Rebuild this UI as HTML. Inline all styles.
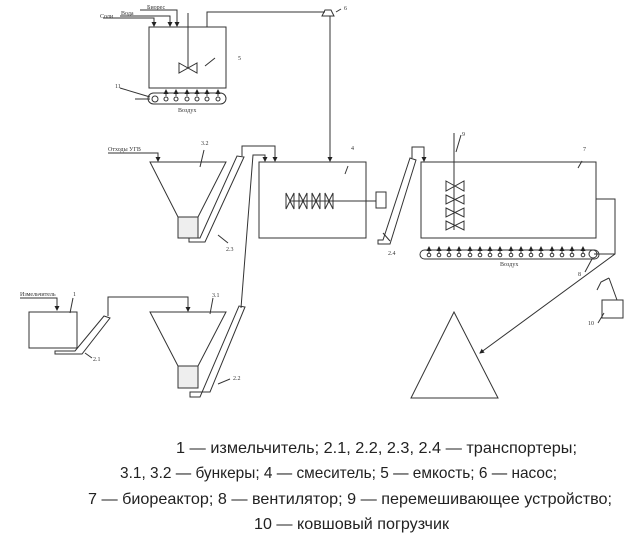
<!DOCTYPE html>
<html><head><meta charset="utf-8"><style>
html,body{margin:0;padding:0;background:#fff;width:644px;height:550px;overflow:hidden}
svg{display:block}
.s{fill:none;stroke:#333;stroke-width:1}
.t{font-family:"Liberation Serif",serif;font-size:6px;fill:#333}
.c{font-family:"Liberation Sans",sans-serif;font-size:16px;fill:#222}
</style></head><body>
<svg width="644" height="550" viewBox="0 0 644 550" xmlns="http://www.w3.org/2000/svg">
<defs><marker id="a" markerWidth="5" markerHeight="5" refX="4" refY="2.5" orient="auto"><path d="M0,0L5,2.5L0,5z" fill="#222"/></marker></defs>
<g class="s">
<rect x="149" y="27" width="77" height="61"/>
<line x1="188" y1="13" x2="188" y2="68"/>
<path d="M179,63L197,73L197,63L179,73z"/>
<line x1="215" y1="58" x2="205" y2="66"/>
<path d="M103,18H154V26" marker-end="url(#a)"/>
<path d="M120,16H170V26" marker-end="url(#a)"/>
<path d="M140,10H177V26" marker-end="url(#a)"/>
<path d="M207,27V12H325"/>
<path d="M325,10L331,10L334,16L322,16z"/>
<line x1="336" y1="12" x2="341" y2="9"/>
<path d="M330,16V161" marker-end="url(#a)"/>
<rect x="148" y="93" width="78" height="11" rx="5.5"/>
<line x1="135" y1="99" x2="150" y2="99"/>
<line x1="120" y1="88" x2="150" y2="97"/>
<circle cx="155" cy="99" r="3"/><circle cx="166" cy="99" r="2"/><circle cx="176" cy="99" r="2"/><circle cx="187" cy="99" r="2"/><circle cx="197" cy="99" r="2"/><circle cx="207" cy="99" r="2"/><circle cx="218" cy="99" r="2"/>
<line x1="166" y1="96" x2="166" y2="90" marker-end="url(#a)"/><line x1="176" y1="96" x2="176" y2="90" marker-end="url(#a)"/><line x1="187" y1="96" x2="187" y2="90" marker-end="url(#a)"/><line x1="197" y1="96" x2="197" y2="90" marker-end="url(#a)"/><line x1="207" y1="96" x2="207" y2="90" marker-end="url(#a)"/><line x1="218" y1="96" x2="218" y2="90" marker-end="url(#a)"/>
<path d="M150,162H226L198,217H178z"/>
<rect x="178" y="217" width="20" height="21" fill="#eee"/>
<path d="M108,153H158V161" marker-end="url(#a)"/>
<line x1="204" y1="150" x2="200" y2="167"/>
<path d="M189,242H205L244,157L237,156L200,238H189z"/>
<line x1="218" y1="235" x2="228" y2="243"/>
<path d="M242,156V146H275V161" marker-end="url(#a)"/>
<path d="M241,308L253,155H265V161" marker-end="url(#a)"/>
<rect x="259" y="162" width="107" height="76"/>
<path d="M286,193L294,209L294,193L286,209z M299,193L307,209L307,193L299,209z M312,193L320,209L320,193L312,209z M325,193L333,209L333,193L325,209z"/>
<line x1="290" y1="201" x2="376" y2="201"/>
<rect x="376" y="192" width="10" height="16"/>
<line x1="348" y1="166" x2="345" y2="174"/>
<rect x="29" y="312" width="48" height="36"/>
<path d="M20,298H57V310" marker-end="url(#a)"/>
<line x1="73" y1="298" x2="70" y2="313"/>
<path d="M55,354H82L110,318L104,316L75,351H55z"/>
<line x1="85" y1="353" x2="92" y2="358"/>
<path d="M108,316V297H188V311" marker-end="url(#a)"/>
<path d="M150,312H226L198,366H178z"/>
<rect x="178" y="366" width="20" height="22" fill="#eee"/>
<line x1="213" y1="298" x2="210" y2="314"/>
<path d="M190,392H210L245,307L239,306L200,397H190z"/>
<line x1="218" y1="384" x2="230" y2="379"/>
<path d="M378,244H390L416,160L410,158L383,240H378z"/>
<line x1="383" y1="233" x2="390" y2="241"/>
<path d="M412,158V147H424V161" marker-end="url(#a)"/>
<rect x="421" y="162" width="175" height="76"/>
<line x1="454" y1="133" x2="454" y2="230"/>
<line x1="456" y1="152" x2="461" y2="135"/>
<path d="M446,181L464,191L464,181L446,191z M446,195L464,204L464,195L446,204z M446,208L464,217L464,208L446,217z M446,221L464,230L464,221L446,230z"/>
<line x1="578" y1="168" x2="582" y2="161"/>
<path d="M596,199H615V254L480,353" marker-end="url(#a)"/>
<rect x="420" y="250" width="179" height="9" rx="4.5"/>
<line x1="594" y1="254" x2="615" y2="254"/>
<circle cx="593" cy="254" r="4"/>
<line x1="585" y1="272" x2="592" y2="259"/>
<line x1="429" y1="253" x2="429" y2="247" marker-end="url(#a)"/><line x1="439" y1="253" x2="439" y2="247" marker-end="url(#a)"/><line x1="449" y1="253" x2="449" y2="247" marker-end="url(#a)"/><line x1="459" y1="253" x2="459" y2="247" marker-end="url(#a)"/><line x1="470" y1="253" x2="470" y2="247" marker-end="url(#a)"/><line x1="480" y1="253" x2="480" y2="247" marker-end="url(#a)"/><line x1="490" y1="253" x2="490" y2="247" marker-end="url(#a)"/><line x1="500" y1="253" x2="500" y2="247" marker-end="url(#a)"/><line x1="511" y1="253" x2="511" y2="247" marker-end="url(#a)"/><line x1="521" y1="253" x2="521" y2="247" marker-end="url(#a)"/><line x1="531" y1="253" x2="531" y2="247" marker-end="url(#a)"/><line x1="541" y1="253" x2="541" y2="247" marker-end="url(#a)"/><line x1="552" y1="253" x2="552" y2="247" marker-end="url(#a)"/><line x1="562" y1="253" x2="562" y2="247" marker-end="url(#a)"/><line x1="572" y1="253" x2="572" y2="247" marker-end="url(#a)"/><line x1="583" y1="253" x2="583" y2="247" marker-end="url(#a)"/>
<circle cx="429" cy="255" r="1.8"/><circle cx="439" cy="255" r="1.8"/><circle cx="449" cy="255" r="1.8"/><circle cx="459" cy="255" r="1.8"/><circle cx="470" cy="255" r="1.8"/><circle cx="480" cy="255" r="1.8"/><circle cx="490" cy="255" r="1.8"/><circle cx="500" cy="255" r="1.8"/><circle cx="511" cy="255" r="1.8"/><circle cx="521" cy="255" r="1.8"/><circle cx="531" cy="255" r="1.8"/><circle cx="541" cy="255" r="1.8"/><circle cx="552" cy="255" r="1.8"/><circle cx="562" cy="255" r="1.8"/><circle cx="572" cy="255" r="1.8"/><circle cx="583" cy="255" r="1.8"/>
<path d="M454,312L498,398H411z"/>
<rect x="602" y="300" width="21" height="18"/>
<path d="M609,278L617,300M609,278L601,282L597,290"/>
<line x1="598" y1="323" x2="604" y2="313"/>
</g>
<g class="t">
<text x="100" y="18">Соли</text><text x="121" y="15">Вода</text><text x="147" y="9">Биорес</text>
<text x="238" y="60">5</text><text x="115" y="88">11</text><text x="344" y="10">6</text>
<text x="178" y="112">Воздух</text>
<text x="108" y="151">Отходы УГВ</text>
<text x="201" y="145">3.2</text><text x="226" y="251">2.3</text><text x="351" y="150">4</text>
<text x="20" y="296">Измельчитель</text><text x="73" y="296">1</text>
<text x="93" y="361">2.1</text><text x="212" y="297">3.1</text><text x="233" y="380">2.2</text>
<text x="388" y="255">2.4</text><text x="462" y="136">9</text><text x="583" y="151">7</text>
<text x="500" y="266">Воздух</text><text x="578" y="276">8</text><text x="588" y="325">10</text>
</g>
<g class="c">
<text x="176" y="453" textLength="401" lengthAdjust="spacingAndGlyphs">1 — измельчитель; 2.1, 2.2, 2.3, 2.4 — транспортеры;</text>
<text x="120" y="478" textLength="437" lengthAdjust="spacingAndGlyphs">3.1, 3.2 — бункеры; 4 — смеситель; 5 — емкость; 6 — насос;</text>
<text x="88" y="504" textLength="524" lengthAdjust="spacingAndGlyphs">7 — биореактор; 8 — вентилятор; 9 — перемешивающее устройство;</text>
<text x="254" y="529" textLength="195" lengthAdjust="spacingAndGlyphs">10 — ковшовый погрузчик</text>
</g>
</svg>
</body></html>
